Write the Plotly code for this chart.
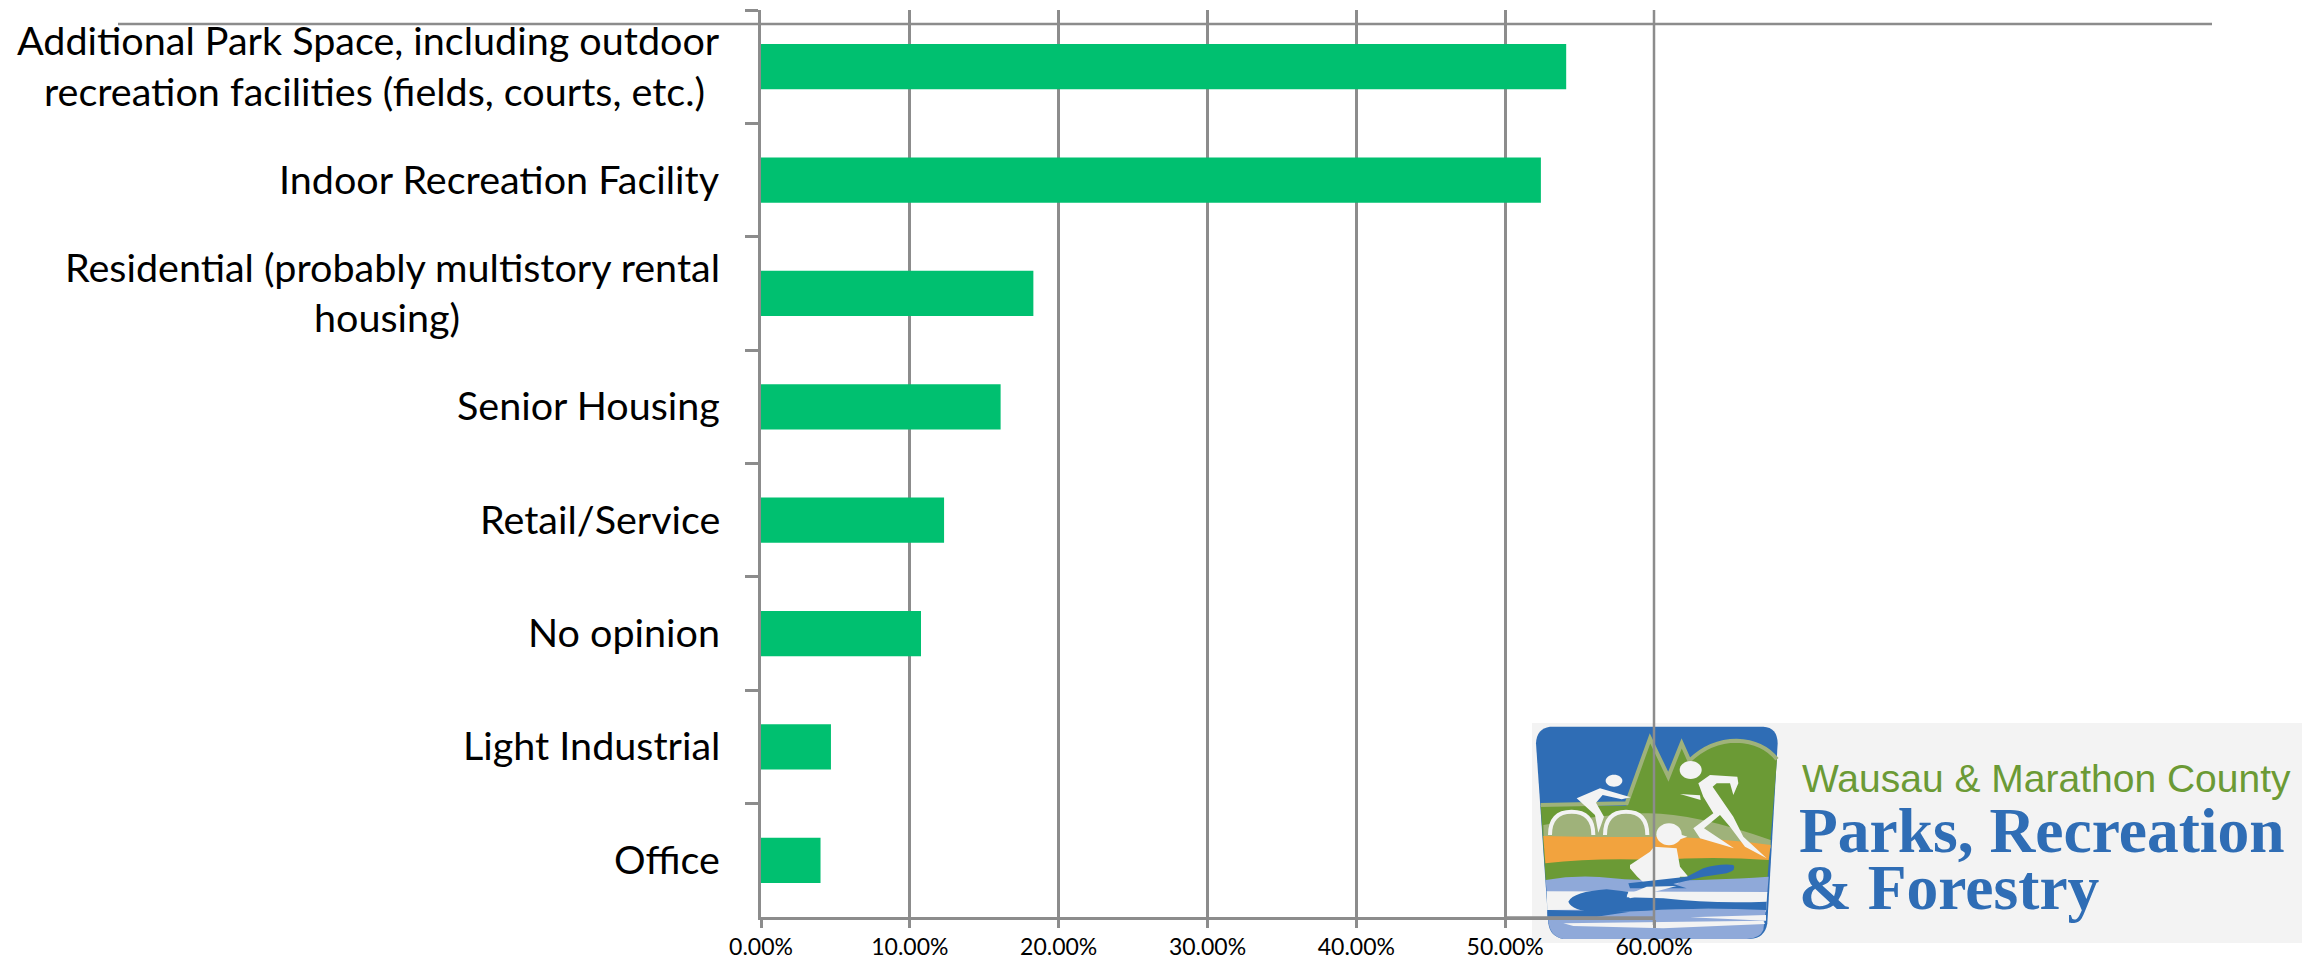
import re
import plotly.graph_objects as go

categories = [
    "Additional Park Space, including outdoor recreation facilities (fields, courts, etc.)",
    "Indoor Recreation Facility",
    "Residential (probably multistory rental housing)",
    "Senior Housing",
    "Retail/Service",
    "No opinion",
    "Light Industrial",
    "Office",
]
shares = [0.541, 0.524, 0.183, 0.161, 0.123, 0.1075, 0.047, 0.040]

# Wrapped category text: (category index, line text, vertical offset, right edge in px)
label_lines = [
    (0, "Additional Park Space, including outdoor", 27.5, 722),
    (0, "recreation facilities (fields, courts, etc.)", -23.5, 707),
    (1, "Indoor Recreation Facility", 2, 722),
    (2, "Residential (probably multistory rental", 27, 722),
    (2, "housing)", -23, 462),
    (3, "Senior Housing", 2, 722),
    (4, "Retail/Service", 2, 722),
    (5, "No opinion", 2, 722),
    (6, "Light Industrial", 2, 722),
    (7, "Office", 2, 722),
]

WIDTH, HEIGHT = 2310, 963
PLOT_L, PLOT_R, PLOT_T, PLOT_B = 761, 1654, 10, 917
GREY = "#8c8c8c"
BAR = "#00c070"
LABEL_FONT = "Lato, Carlito, sans-serif"
RULE = 2.5

LOGO_BLUE = "#2f6db5"
LOGO_GREEN = "#6b9a35"
LOGO_OLIVE = "#9fb27a"
LOGO_ORANGE = "#f2a33e"
LOGO_WATER = "#8fa9d9"
LOGO_PAPER = "#f3f3f3"


def px_x(x):
    return (x - PLOT_L) / (PLOT_R - PLOT_L)


def px_y(y):
    return (PLOT_B - y) / (PLOT_B - PLOT_T)


def emblem_path(path):
    """Convert an emblem outline from local units (1/3 px) to paper coordinates."""
    nums = iter(range(10**6))

    def conv(match):
        value = float(match.group(0))
        if next(nums) % 2 == 0:
            return f"{px_x(1530 + value / 3):.5f}"
        return f"{px_y(720 + value / 3):.5f}"

    return re.sub(r"-?\d+(?:\.\d+)?", conv, path)


def emblem(path, fill=None, line=None, width=0):
    return dict(
        type="path",
        xref="paper",
        yref="paper",
        layer="below",
        path=emblem_path(path),
        fillcolor=fill if fill else "rgba(0,0,0,0)",
        line=dict(color=line if line else "rgba(0,0,0,0)", width=width),
    )


def oval(cx, cy, rx, ry):
    k = 0.55
    return (
        f"M {cx - rx} {cy} C {cx - rx} {cy - k * ry} {cx - k * rx} {cy - ry} {cx} {cy - ry} "
        f"C {cx + k * rx} {cy - ry} {cx + rx} {cy - k * ry} {cx + rx} {cy} "
        f"C {cx + rx} {cy + k * ry} {cx + k * rx} {cy + ry} {cx} {cy + ry} "
        f"C {cx - k * rx} {cy + ry} {cx - rx} {cy + k * ry} {cx - rx} {cy} Z"
    )


def rule(x0, y0, x1, y1):
    return dict(type="line", xref="paper", yref="paper", layer="above",
                x0=px_x(x0), x1=px_x(x1), y0=px_y(y0), y1=px_y(y1),
                line=dict(color=GREY, width=RULE))


shapes = [
    # Logo backing panel
    dict(type="rect", xref="paper", yref="paper", layer="below",
         x0=px_x(1532), x1=px_x(2302), y0=px_y(943), y1=px_y(723),
         fillcolor=LOGO_PAPER, line=dict(width=0)),
    # Emblem: sky, hills, sun band, water
    emblem("M 60 20 L 700 20 Q 742 22 743 70 L 712 610 Q 705 655 660 657 L 100 657 "
           "Q 60 650 55 610 L 18 70 Q 20 25 60 20 Z", LOGO_BLUE),
    emblem("M 32 258 L 288 258 L 360 55 L 415 170 L 455 70 L 478 122 Q 540 62 620 62 "
           "Q 700 65 741 118 L 712 480 L 47 480 Z", LOGO_GREEN),
    emblem("M 32 255 L 290 250 L 360 55 L 415 170 L 455 70 L 478 122 Q 540 62 620 62 "
           "Q 700 65 741 118", None, LOGO_OLIVE, 4),
    emblem("M 40 315 Q 200 285 340 280 Q 480 275 722 360 L 722 385 L 42 385 Z", LOGO_OLIVE),
    emblem("M 40 348 Q 200 352 380 350 Q 560 352 722 375 L 716 420 Q 550 408 380 420 "
           "Q 200 412 46 430 Z", LOGO_ORANGE),
    emblem("M 47 480 Q 150 462 250 475 Q 400 490 716 470 L 712 518 L 50 516 Z", LOGO_WATER),
    emblem("M 50 514 L 712 516 L 708 575 L 52 575 Z", LOGO_PAPER),
    emblem("M 52 570 L 708 565 L 700 630 Q 690 655 650 657 L 100 657 Q 62 650 56 610 Z", LOGO_WATER),
    emblem("M 115 545 Q 130 515 230 508 L 295 515 L 290 532 L 400 535 Q 550 552 710 545 "
           "L 708 570 Q 500 562 350 572 L 200 578 Q 125 572 115 545 Z", LOGO_BLUE),
    emblem("M 52 570 L 300 575 L 200 590 L 52 590 Z", LOGO_BLUE),
    emblem("M 480 592 L 708 585 L 708 602 Z", LOGO_PAPER),
    emblem("M 100 610 L 700 602 L 705 612 L 400 625 L 130 618 Z", LOGO_PAPER),
    # Cyclist
    emblem("M 60 345 Q 60 275 125 275 Q 190 275 190 345", LOGO_OLIVE, LOGO_PAPER, 4),
    emblem("M 225 345 Q 225 275 288 275 Q 352 275 352 345", LOGO_OLIVE, LOGO_PAPER, 4),
    emblem("M 140 235 L 210 205 L 302 232 L 275 238 L 218 225 L 198 248 L 222 290 L 205 338 "
           "L 195 285 Z", LOGO_PAPER),
    emblem(oval(252, 182, 25, 18), LOGO_PAPER),
    # Runner
    emblem(oval(482, 150, 33, 27), LOGO_PAPER),
    emblem("M 505 190 L 540 165 L 622 170 L 625 190 L 610 225 L 600 190 L 560 190 L 548 200 "
           "L 610 290 L 640 350 L 710 415 L 645 380 L 600 320 L 570 285 L 522 325 L 612 385 "
           "L 510 355 L 490 325 L 550 280 L 520 230 Z", LOGO_PAPER),
    emblem("M 450 222 L 510 226 L 512 240 Z", LOGO_PAPER),
    # Kayaker and paddle
    emblem("M 300 435 L 360 395 L 372 380 L 440 385 L 450 440 L 475 470 L 450 470 L 445 490 "
           "L 352 498 L 322 470 L 300 445 Z", LOGO_PAPER),
    emblem(oval(417, 343, 38, 33), LOGO_PAPER),
    emblem("M 440 340 L 472 350 L 445 360 Z", LOGO_PAPER),
    emblem("M 295 490 L 470 470 L 520 445 Q 570 430 610 435 Q 622 450 590 460 L 520 470 "
           "L 430 492 L 470 505 L 300 505 Z", LOGO_BLUE),
    emblem("M 290 525 L 350 500 L 440 498 L 300 535 Z", LOGO_PAPER),
    # Rule across the top, plus the right-hand gridline and baseline running over the logo
    rule(118, 24, 2212, 24),
    rule(1654, 10, 1654, 925),
    rule(1505, 917.5, 1654, 917.5),
]

annotations = [
    dict(xref="paper", yref="y", x=px_x(right), y=categories[i], yshift=shift,
         xanchor="right", yanchor="middle", showarrow=False, text=text,
         font=dict(family=LABEL_FONT, size=39.5, color="#000000"))
    for i, text, shift, right in label_lines
]

# Logo lettering
logo_text = [
    ("Wausau &amp; Marathon County", 1800, 778, "Liberation Sans", 39, "normal", LOGO_GREEN),
    ("Parks, Recreation", 1797, 830, "Liberation Serif", 63.5, "bold", LOGO_BLUE),
    ("&amp; Forestry", 1797, 887, "Liberation Serif", 63.5, "bold", LOGO_BLUE),
]
for text, x, y, family, size, weight, color in logo_text:
    annotations.append(dict(
        xref="paper", yref="paper", x=px_x(x), y=px_y(y), xanchor="left", yanchor="middle",
        showarrow=False, text=f"<b>{text}</b>" if weight == "bold" else text,
        font=dict(family=family, size=size, color=color),
    ))

fig = go.Figure(go.Bar(
    x=shares,
    y=categories,
    orientation="h",
    marker=dict(color=BAR, line=dict(width=0)),
))

fig.update_layout(
    width=WIDTH,
    height=HEIGHT,
    margin=dict(l=PLOT_L, r=WIDTH - PLOT_R, t=PLOT_T, b=HEIGHT - PLOT_B, pad=0, autoexpand=False),
    paper_bgcolor="white",
    plot_bgcolor="rgba(0,0,0,0)",
    bargap=0.6,
    showlegend=False,
    shapes=shapes,
    annotations=annotations,
)
fig.update_xaxes(
    range=[0, 0.6],
    dtick=0.1,
    tickformat=".2%",
    showgrid=True,
    gridcolor=GREY,
    gridwidth=RULE,
    zeroline=False,
    showline=True,
    linecolor=GREY,
    linewidth=RULE,
    ticks="outside",
    ticklen=8,
    tickwidth=RULE,
    tickcolor=GREY,
    tickfont=dict(family=LABEL_FONT, size=23, color="#000000"),
)
fig.update_yaxes(
    autorange="reversed",
    tickson="boundaries",
    showticklabels=False,
    showgrid=False,
    zeroline=False,
    showline=True,
    linecolor=GREY,
    linewidth=RULE,
    ticks="outside",
    ticklen=13,
    tickwidth=RULE,
    tickcolor=GREY,
)

fig.write_html("out.html", config=dict(displayModeBar=False))
